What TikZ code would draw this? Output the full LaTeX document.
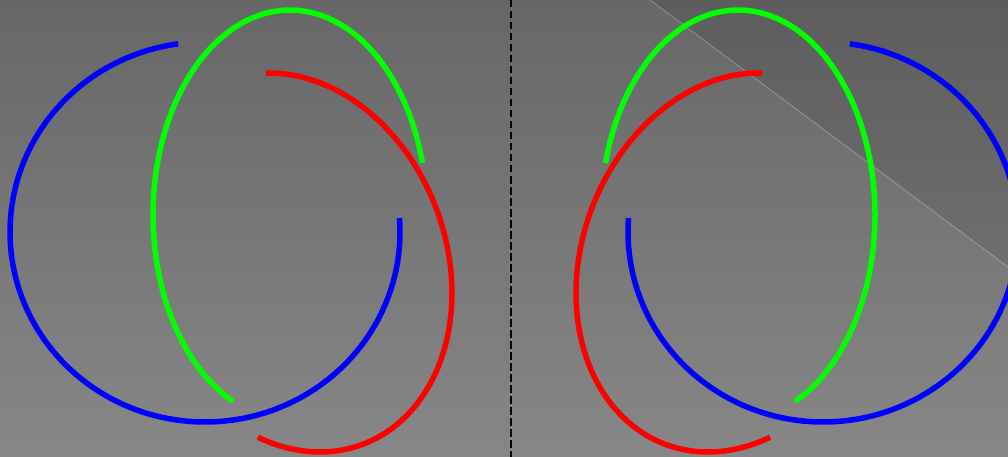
\documentclass[tikz,border=0pt]{standalone}
\definecolor{bgtop}{RGB}{103,103,103}
\definecolor{bgbot}{RGB}{135,135,135}
\definecolor{kblue}{RGB}{0,0,255}
\definecolor{kgreen}{RGB}{0,255,0}
\definecolor{kred}{RGB}{255,0,0}
\tikzset{
  strand/.style={line width=5.5pt},
  divider/.style={black, line width=1.8pt, dash pattern=on 7.5pt off 3.5pt},
}
\newcommand{\knotarcs}{%
  % blue: near-circle
  \draw[strand, kblue] plot[domain=-4.2:262.1, samples=160, smooth]
    ({205+195*cos(\x)}, {232+190*sin(\x)});
  % green: tall ellipse
  \draw[strand, kgreen] plot[domain=-245.4:-14.7, samples=160, smooth]
    ({290+137*cos(\x)}, {215+205*sin(\x)});
  % red: tilted ellipse
  \draw[strand, kred] plot[domain=-165.2:38.9, samples=160, smooth]
    ({294.7+194.1*cos(\x)*0.347-151.5*sin(\x)*0.938},
     {262.5+194.1*cos(\x)*0.938+151.5*sin(\x)*0.347});
}
\begin{document}
\begin{tikzpicture}[x=1pt,y=-1pt]
  \useasboundingbox (0,0) rectangle (1008,457);
  \clip (0,0) rectangle (1008,457);
  \shade[top color=bgtop, bottom color=bgbot] (0,0) rectangle (1008,457);
  \fill[black, opacity=0.09] (650,0) -- (1008,0) -- (1008,267) -- cycle;
  \draw[white, opacity=0.25, line width=1pt] (650,0) -- (1008,267);
  \knotarcs
  \begin{scope}[xshift=1028pt, xscale=-1]
    \knotarcs
  \end{scope}
  \coordinate (dtop) at (511,0);
  \coordinate (dbot) at (511,457);
  \draw[divider] (dtop) -- (dbot);
\end{tikzpicture}
\end{document}
